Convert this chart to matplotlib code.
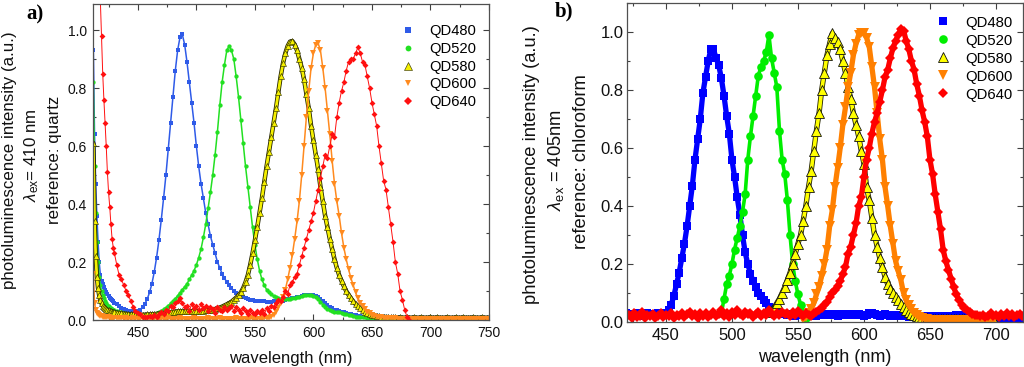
import numpy as np
import matplotlib
matplotlib.use('Agg')
import matplotlib.pyplot as plt
import matplotlib.patheffects as pe
from matplotlib.ticker import MultipleLocator

plt.rcParams['font.family'] = ['Liberation Sans', 'DejaVu Sans']
plt.rcParams['mathtext.fontset'] = 'custom'
plt.rcParams['mathtext.rm'] = 'Liberation Sans'
plt.rcParams['mathtext.it'] = 'Liberation Sans:italic'
plt.rcParams['mathtext.bf'] = 'Liberation Sans:bold'

nan = np.nan
labels = ['QD480', 'QD520', 'QD580', 'QD600', 'QD640']

# ---------------- panel a: excitation 410 nm, reference quartz ----------------
wl_a = np.concatenate([np.arange(412, 431), np.arange(432, 751, 2)])

qd480_a = [
    0.93, 0.64, 0.47, 0.36, 0.27, 0.20, 0.155, 0.135, 0.125, 0.115, 0.105, 0.097, 0.090, 0.083, 0.077, 0.072, 0.068, 0.064, 0.060,
    0.054, 0.048, 0.043, 0.039, 0.035, 0.032, 0.030, 0.029, 0.029, 0.031,
    0.036, 0.044, 0.056, 0.072, 0.095, 0.125, 0.165, 0.215, 0.275, 0.345,
    0.42, 0.50, 0.59, 0.68, 0.77, 0.86, 0.93, 0.975, 0.985, 0.95,
    0.89, 0.82, 0.75, 0.68, 0.60, 0.53, 0.47, 0.42, 0.37, 0.33,
    0.29, 0.26, 0.23, 0.20, 0.18, 0.16, 0.145, 0.13, 0.12, 0.11,
    0.100, 0.093, 0.087, 0.082, 0.078, 0.075, 0.072, 0.070, 0.068, 0.067,
    0.066, 0.065, 0.064, 0.064, 0.063, 0.063, 0.063, 0.064, 0.064, 0.065,
    0.066, 0.067, 0.069, 0.071, 0.073, 0.075, 0.077, 0.079, 0.081, 0.083,
    0.085, 0.086, 0.087, 0.087, 0.086, 0.083, 0.078, 0.072, 0.065, 0.058,
    0.051, 0.045, 0.040, 0.036, 0.033, 0.030, 0.028, 0.026, 0.024, 0.022,
    0.020, 0.018, 0.016, 0.014, 0.013, 0.012, 0.011, 0.010, 0.009, 0.009,
    0.008, 0.008, 0.008, 0.007, 0.007, 0.007, 0.007, 0.007, 0.006, 0.006,
    0.006, 0.007, 0.006, 0.006, 0.007, 0.006, 0.006, 0.006, 0.007, 0.006,
    0.006, 0.006, 0.007, 0.006, 0.006, 0.005, 0.006, 0.006, 0.007, 0.006,
    0.006, 0.005, 0.006, 0.006, 0.007, 0.006, 0.006, 0.005, 0.006, 0.006,
    0.006, 0.007, 0.006, 0.005, 0.006, 0.006, 0.006, 0.007, 0.006, 0.006,
]
qd520_a = [
    0.82, 0.53, 0.37, 0.27, 0.20, 0.15, 0.12, 0.10, 0.085, 0.075, 0.066, 0.058, 0.052, 0.047, 0.043, 0.040, 0.037, 0.035, 0.033,
    0.030, 0.028, 0.026, 0.024, 0.022, 0.020, 0.019, 0.018, 0.017, 0.016,
    0.016, 0.016, 0.016, 0.017, 0.018, 0.020, 0.022, 0.025, 0.028, 0.032,
    0.037, 0.043, 0.050, 0.057, 0.065, 0.074, 0.084, 0.094, 0.105, 0.115,
    0.125, 0.140, 0.155, 0.170, 0.190, 0.215, 0.245, 0.285, 0.330, 0.385,
    0.44, 0.50, 0.57, 0.65, 0.74, 0.82, 0.88, 0.93, 0.945, 0.93,
    0.90, 0.84, 0.77, 0.69, 0.61, 0.53, 0.46, 0.39, 0.32, 0.26,
    0.21, 0.17, 0.14, 0.12, 0.105, 0.095, 0.088, 0.082, 0.078, 0.075,
    0.073, 0.072, 0.072, 0.072, 0.073, 0.075, 0.077, 0.079, 0.081, 0.083,
    0.085, 0.086, 0.086, 0.085, 0.083, 0.078, 0.071, 0.062, 0.053, 0.045,
    0.039, 0.034, 0.031, 0.029, 0.027, 0.026, 0.024, 0.022, 0.020, 0.018,
    0.016, 0.014, 0.012, 0.011, 0.010, 0.009, 0.009, 0.008, 0.008, 0.008,
    0.008, 0.007, 0.007, 0.007, 0.007, 0.006, 0.006, 0.006, 0.006, 0.006,
    0.006, 0.005, 0.006, 0.006, 0.005, 0.006, 0.005, 0.006, 0.006, 0.005,
    0.006, 0.005, 0.005, 0.006, 0.005, 0.006, 0.005, 0.005, 0.006, 0.005,
    0.005, 0.006, 0.005, 0.005, 0.006, 0.005, 0.005, 0.006, 0.005, 0.005,
    0.006, 0.005, 0.005, 0.006, 0.005, 0.005, 0.005, 0.006, 0.005, 0.005,
]
qd580_a = [
    0.61, 0.34, 0.22, 0.15, 0.11, 0.085, 0.068, 0.057, 0.050, 0.045, 0.041, 0.038, 0.035, 0.033, 0.031, 0.030, 0.029, 0.028, 0.027,
    0.025, 0.024, 0.023, 0.022, 0.021, 0.020, 0.019, 0.019, 0.018, 0.018,
    0.018, 0.018, 0.018, 0.019, 0.019, 0.020, 0.020, 0.021, 0.022, 0.023,
    0.024, 0.025, 0.026, 0.027, 0.028, 0.029, 0.030, 0.030, 0.030, 0.030,
    0.030, 0.030, 0.030, 0.030, 0.030, 0.030, 0.031, 0.032, 0.033, 0.034,
    0.035, 0.036, 0.038, 0.040, 0.043, 0.046, 0.050, 0.054, 0.058, 0.063,
    0.070, 0.077, 0.085, 0.095, 0.11, 0.13, 0.155, 0.19, 0.23, 0.275,
    0.32, 0.37, 0.42, 0.475, 0.53, 0.58, 0.63, 0.68, 0.73, 0.785,
    0.84, 0.885, 0.92, 0.945, 0.96, 0.962, 0.95, 0.93, 0.90, 0.87,
    0.83, 0.78, 0.73, 0.67, 0.62, 0.57, 0.52, 0.46, 0.41, 0.36,
    0.32, 0.28, 0.245, 0.21, 0.18, 0.155, 0.135, 0.117, 0.10, 0.087,
    0.075, 0.064, 0.055, 0.047, 0.040, 0.034, 0.029, 0.025, 0.021, 0.018,
    0.016, 0.014, 0.013, 0.012, 0.011, 0.010, 0.010, 0.009, 0.009, 0.009,
    0.008, 0.009, 0.008, 0.008, 0.009, 0.008, 0.008, 0.009, 0.008, 0.008,
    0.009, 0.008, 0.008, 0.008, 0.009, 0.008, 0.008, 0.009, 0.008, 0.008,
    0.008, 0.009, 0.008, 0.008, 0.008, 0.009, 0.008, 0.008, 0.009, 0.008,
    0.008, 0.008, 0.009, 0.008, 0.008, 0.008, 0.009, 0.008, 0.008, 0.008,
]
qd600_a = [
    0.16, 0.06, 0.035, 0.025, 0.020, 0.017, 0.015, 0.013, 0.012, 0.011, 0.010, 0.010, 0.009, 0.009, 0.008, 0.008, 0.008, 0.007, 0.007,
    0.006, 0.006, 0.006, 0.005, 0.006, 0.005, 0.005, 0.006, 0.005, 0.005,
    0.005, 0.006, 0.005, 0.005, 0.005, 0.006, 0.005, 0.005, 0.005, 0.005,
    0.005, 0.005, 0.006, 0.005, 0.005, 0.005, 0.005, 0.006, 0.005, 0.005,
    0.005, 0.005, 0.005, 0.006, 0.005, 0.005, 0.005, 0.005, 0.005, 0.006,
    0.005, 0.005, 0.005, 0.005, 0.006, 0.005, 0.005, 0.005, 0.005, 0.005,
    0.005, 0.006, 0.005, 0.005, 0.005, 0.005, 0.005, 0.006, 0.005, 0.005,
    0.005, 0.005, 0.005, 0.006, 0.007, 0.008, 0.012, 0.018, 0.028, 0.042,
    0.06, 0.08, 0.105, 0.14, 0.18, 0.225, 0.28, 0.34, 0.41, 0.50,
    0.60, 0.70, 0.79, 0.87, 0.92, 0.95, 0.955, 0.93, 0.87, 0.80,
    0.72, 0.64, 0.55, 0.47, 0.41, 0.36, 0.30, 0.25, 0.21, 0.175,
    0.145, 0.12, 0.095, 0.075, 0.06, 0.047, 0.037, 0.029, 0.023, 0.018,
    0.014, 0.012, 0.010, 0.009, 0.008, 0.007, 0.007, 0.006, 0.006, 0.006,
    0.005, 0.005, 0.005, 0.004, 0.005, 0.005, 0.004, 0.005, 0.005, 0.004,
    0.005, 0.004, 0.005, 0.005, 0.004, 0.005, 0.004, 0.005, 0.004, 0.005,
    0.004, 0.005, 0.004, 0.005, 0.005, 0.004, 0.005, 0.004, 0.005, 0.004,
    0.005, 0.004, 0.005, 0.004, 0.005, 0.004, 0.005, 0.005, 0.004, 0.005,
]
qd640_a = [
    nan, nan, nan, nan, nan, nan, 1.10, 0.98, 0.85, 0.76, 0.68, 0.60, 0.51, 0.44, 0.39, 0.33, 0.28, 0.25, 0.23,
    0.19, 0.155, 0.14, 0.12, 0.10, 0.085, 0.065, 0.045, 0.030, 0.025,
    0.020, 0.012, 0.010, 0.012, 0.015, 0.010, 0.018, 0.012, 0.020, 0.028,
    0.022, 0.035, 0.030, 0.050, 0.045, 0.060, 0.065, 0.075, 0.060, 0.045,
    0.050, 0.030, 0.055, 0.040, 0.050, 0.035, 0.055, 0.040, 0.050, 0.030,
    0.045, 0.038, 0.025, 0.045, 0.035, 0.030, 0.045, 0.035, 0.040, 0.050,
    0.030, 0.045, 0.035, 0.025, 0.040, 0.030, 0.020, 0.035, 0.025, 0.020,
    0.030, 0.025, 0.035, 0.020, 0.040, 0.030, 0.050, 0.045, 0.060, 0.070,
    0.065, 0.080, 0.100, 0.090, 0.120, 0.130, 0.150, 0.160, 0.190, 0.220,
    0.25, 0.28, 0.31, 0.34, 0.37, 0.41, 0.45, 0.49, 0.53, 0.57,
    0.56, 0.60, 0.64, 0.63, 0.70, 0.75, 0.79, 0.82, 0.86, 0.89,
    0.90, 0.90, 0.92, 0.94, 0.92, 0.89, 0.88, 0.84, 0.80, 0.75,
    0.71, 0.67, 0.60, 0.54, 0.48, 0.45, 0.39, 0.33, 0.27, 0.20,
    0.16, 0.10, 0.07, 0.035, 0.01, 0.0, nan, nan, nan, nan,
    nan, nan, nan, nan, nan, nan, nan, nan, nan, nan,
    nan, nan, nan, nan, nan, nan, nan, nan, nan, nan,
    nan, nan, nan, nan, nan, nan, nan, nan, nan, nan,
]

# ---------------- panel b: excitation 405 nm, reference chloroform ----------------
wl_b = np.arange(420, 721, 2)

qd480_b = [
    0.030, 0.025, 0.028, 0.022, 0.030, 0.026, 0.020, 0.027, 0.031, 0.024,
    0.026, 0.029, 0.031, 0.025, 0.030, 0.028, 0.040, 0.060, 0.090, 0.130,
    0.17, 0.22, 0.27, 0.33, 0.40, 0.47, 0.56, 0.63, 0.70, 0.79,
    0.845, 0.90, 0.94, 0.94, 0.91, 0.885, 0.84, 0.78, 0.71, 0.65,
    0.56, 0.50, 0.43, 0.37, 0.30, 0.24, 0.20, 0.167, 0.14, 0.12,
    0.10, 0.088, 0.075, 0.065, 0.052, 0.043, 0.036, 0.032, 0.030, 0.028,
    0.026, 0.025, 0.028, 0.024, 0.022, 0.026, 0.025, 0.023, 0.027, 0.025,
    0.024, 0.026, 0.022, 0.025, 0.027, 0.023, 0.025, 0.028, 0.024, 0.026,
    0.022, 0.025, 0.027, 0.024, 0.026, 0.023, 0.025, 0.028, 0.026, 0.024,
    0.022, 0.025, 0.030, 0.032, 0.026, 0.024, 0.022, 0.025, 0.027, 0.024,
    0.022, 0.020, 0.024, 0.021, 0.019, 0.022, 0.020, 0.018, 0.021, 0.019,
    0.018, 0.020, 0.017, 0.019, 0.016, 0.018, 0.020, 0.017, 0.019, 0.021,
    0.018, 0.020, 0.022, 0.019, 0.021, 0.023, 0.020, 0.022, 0.025, 0.023,
    0.021, 0.019, 0.017, 0.015, 0.014, 0.016, 0.013, 0.015, 0.014, 0.012,
    0.013, 0.015, 0.012, 0.014, 0.013, 0.011, 0.014, 0.012, 0.013, 0.012,
    0.013,
]
qd520_b = [
    nan, nan, nan, nan, nan, nan, nan, nan, nan, nan,
    nan, nan, nan, nan, nan, nan, nan, nan, nan, nan,
    nan, nan, nan, nan, nan, nan, nan, nan, nan, nan,
    nan, nan, nan, nan, nan, nan, 0.03, 0.08, 0.13, 0.16,
    0.20, 0.25, 0.29, 0.33, 0.38, 0.44, 0.56, 0.64, 0.71, 0.78,
    0.85, 0.88, 0.90, 0.93, 0.99, 0.91, 0.86, 0.81, 0.66, 0.56,
    0.51, 0.42, 0.30, 0.20, 0.14, 0.095, 0.06, 0.03, 0.015, nan,
    nan, nan, nan, nan, nan, nan, nan, nan, nan, nan,
    nan, nan, nan, nan, nan, nan, nan, nan, nan, nan,
    nan, nan, nan, nan, nan, nan, nan, nan, nan, nan,
    nan, nan, nan, nan, nan, nan, nan, nan, nan, nan,
    nan, nan, nan, nan, nan, nan, nan, nan, nan, nan,
    nan, nan, nan, nan, nan, nan, nan, nan, nan, nan,
    nan, nan, nan, nan, nan, nan, nan, nan, nan, nan,
    nan, nan, nan, nan, nan, nan, nan, nan, nan, nan,
    nan,
]
qd580_b = [
    nan, nan, nan, nan, nan, nan, nan, nan, nan, nan,
    nan, nan, nan, nan, nan, nan, nan, nan, nan, nan,
    nan, nan, nan, nan, nan, nan, nan, nan, nan, nan,
    nan, nan, nan, nan, nan, nan, nan, nan, nan, nan,
    nan, nan, nan, nan, nan, nan, nan, nan, nan, nan,
    nan, nan, nan, nan, 0.035, 0.04, 0.05, 0.065, 0.08, 0.10,
    0.12, 0.145, 0.17, 0.20, 0.236, 0.27, 0.30, 0.35, 0.40, 0.465,
    0.52, 0.59, 0.66, 0.72, 0.80, 0.86, 0.92, 0.96, 0.995, 0.98,
    0.966, 0.94, 0.90, 0.86, 0.81, 0.77, 0.72, 0.68, 0.64, 0.59,
    0.546, 0.465, 0.42, 0.36, 0.30, 0.26, 0.22, 0.19, 0.155, 0.13,
    0.115, 0.10, 0.085, 0.075, 0.063, 0.052, 0.043, 0.035, 0.029, 0.025,
    0.021, 0.018, 0.016, 0.014, 0.013, 0.012, 0.011, 0.011, 0.010, 0.010,
    0.010, 0.010, 0.009, 0.010, 0.009, 0.009, 0.010, 0.009, 0.009, 0.010,
    0.009, 0.010, 0.009, 0.009, 0.010, 0.009, 0.009, 0.010, 0.009, 0.009,
    nan, nan, nan, nan, nan, nan, nan, nan, nan, nan,
    nan,
]
qd600_b = [
    nan, nan, nan, nan, nan, nan, nan, nan, nan, nan,
    nan, nan, nan, nan, nan, nan, nan, nan, nan, nan,
    nan, nan, nan, nan, nan, nan, nan, nan, nan, nan,
    nan, nan, nan, nan, nan, nan, nan, nan, nan, nan,
    nan, nan, nan, nan, nan, nan, nan, nan, nan, nan,
    nan, nan, nan, nan, nan, nan, nan, nan, nan, nan,
    nan, nan, nan, nan, nan, nan, nan, 0.010, 0.017, 0.030,
    0.045, 0.065, 0.095, 0.12, 0.16, 0.20, 0.25, 0.33, 0.385, 0.465,
    0.53, 0.60, 0.68, 0.74, 0.81, 0.86, 0.92, 0.96, 0.99, 0.995,
    0.995, 0.98, 0.95, 0.88, 0.81, 0.72, 0.63, 0.56, 0.465, 0.40,
    0.33, 0.27, 0.21, 0.175, 0.144, 0.10, 0.075, 0.057, 0.045, 0.032,
    0.025, 0.018, 0.014, 0.011, 0.009, 0.008, 0.007, 0.007, 0.006, 0.006,
    0.006, 0.005, 0.006, 0.005, 0.005, 0.006, 0.005, 0.005, 0.006, 0.005,
    0.005, 0.006, 0.005, 0.005, 0.006, 0.005, 0.005, 0.006, 0.005, 0.005,
    nan, nan, nan, nan, nan, nan, nan, nan, nan, nan,
    nan,
]
qd640_b = [
    0.020, 0.025, 0.015, 0.030, 0.018, 0.022, 0.035, 0.015, 0.025, 0.020,
    0.028, 0.015, 0.022, 0.030, 0.018, 0.025, 0.020, 0.032, 0.015, 0.024,
    0.020, 0.030, 0.018, 0.026, 0.035, 0.020, 0.028, 0.015, 0.030, 0.022,
    0.032, 0.018, 0.025, 0.036, 0.020, 0.028, 0.040, 0.022, 0.030, 0.018,
    0.034, 0.025, 0.040, 0.028, 0.020, 0.035, 0.026, 0.030, 0.018, 0.028,
    0.036, 0.022, 0.030, 0.025, 0.040, 0.028, 0.020, 0.032, 0.024, 0.035,
    0.026, 0.030, 0.020, 0.034, 0.025, 0.038, 0.028, 0.022, 0.030, 0.024,
    0.022, 0.030, 0.035, 0.040, 0.050, 0.060, 0.070, 0.085, 0.10, 0.11,
    0.125, 0.14, 0.165, 0.19, 0.236, 0.26, 0.30, 0.34, 0.40, 0.43,
    0.50, 0.56, 0.60, 0.65, 0.69, 0.72, 0.76, 0.80, 0.845, 0.87,
    0.91, 0.945, 0.97, 0.99, 1.01, 1.005, 0.97, 0.94, 0.90, 0.87,
    0.82, 0.78, 0.73, 0.69, 0.64, 0.56, 0.51, 0.44, 0.38, 0.32,
    0.25, 0.21, 0.18, 0.15, 0.12, 0.095, 0.075, 0.06, 0.05, 0.04,
    0.035, 0.029, 0.025, 0.023, 0.020, 0.025, 0.018, 0.022, 0.030, 0.020,
    0.025, 0.018, 0.028, 0.022, 0.030, 0.020, 0.026, 0.018, 0.024, 0.028,
    0.022,
]

for s in (qd480_a, qd520_a, qd580_a, qd600_a, qd640_a):
    assert len(s) == len(wl_a), len(s)
for s in (qd480_b, qd520_b, qd580_b, qd600_b, qd640_b):
    assert len(s) == len(wl_b), len(s)

# ---------------- styles ----------------
style_a = [
    dict(marker='s', ms=2.9, color='#2f5be8', mew=0),
    dict(marker='o', ms=3.1, color='#22e022', mew=0),
    dict(marker='^', ms=4.6, color='#f5f000', mec='#222200', mew=0.4),
    dict(marker='v', ms=3.7, color='#ff8a1e', mew=0),
    dict(marker='D', ms=3.0, color='#ff1010', mew=0),
]
band_a = [1.1, 1.1, 2.0, 1.1, 0.7]
style_b = [
    dict(marker='s', ms=6.0, color='#0000ff', mew=0),
    dict(marker='o', ms=6.2, color='#00ee00', mew=0),
    dict(marker='^', ms=6.8, color='#ffff00', mec='#111111', mew=0.6),
    dict(marker='v', ms=6.8, color='#ff8000', mew=0),
    dict(marker='D', ms=5.4, color='#ff0000', mew=0),
]
band_b = [3.8, 2.6, 2.6, 3.8, 3.8]

W, H = 1024, 367
fig = plt.figure(figsize=(W / 100, H / 100), dpi=100)

def px_axes(x0, y0, x1, y1):
    return fig.add_axes([x0 / W, 1 - y1 / H, (x1 - x0) / W, (y1 - y0) / H])

def style_axes(ax, fs, xpad, ypad):
    for sp in ax.spines.values():
        sp.set_color('#505050')
        sp.set_linewidth(0.9)
    ax.xaxis.set_major_locator(MultipleLocator(50))
    ax.xaxis.set_minor_locator(MultipleLocator(25))
    ax.yaxis.set_major_locator(MultipleLocator(0.2))
    ax.yaxis.set_minor_locator(MultipleLocator(0.1))
    ax.yaxis.set_major_formatter(matplotlib.ticker.FormatStrFormatter('%.1f'))
    ax.tick_params(which='both', direction='in', top=True, right=True, color='#404040', width=0.8)
    ax.tick_params(which='major', length=4.5)
    ax.tick_params(which='minor', length=2.5)
    ax.tick_params(axis='x', labelsize=fs, pad=xpad, labelcolor='#111111')
    ax.tick_params(axis='y', labelsize=fs, pad=ypad, labelcolor='#111111')

def draw(ax, wl, series, styles, bands):
    handles = []
    for y, st, lw, lab in zip(series, styles, bands, labels):
        effects = None
        if 'mec' in st:
            effects = [pe.Stroke(linewidth=lw + 1.2, foreground='#222200'), pe.Normal()]
        ax.plot(wl, y, ls='-', lw=lw, color=st['color'], marker='none',
                solid_capstyle='round', solid_joinstyle='round', path_effects=effects)
        h, = ax.plot(wl, y, ls='none', label=lab, **st)
        handles.append(h)
    return handles

# panel a
ax_a = px_axes(93, 4, 489, 320)
h_a = draw(ax_a, wl_a, [qd480_a, qd520_a, qd580_a, qd600_a, qd640_a], style_a, band_a)
ax_a.set_xlim(411.7, 750)
ax_a.set_ylim(0, 1.09)
style_axes(ax_a, 10, 4.5, 4.5)
ax_a.legend(handles=h_a, loc='upper left', bbox_to_anchor=(401 / W, 1 - 24 / H), bbox_transform=fig.transFigure,
            frameon=False, borderpad=0, borderaxespad=0, handlelength=1.0, handletextpad=0.9,
            labelspacing=0.26, fontsize=10.6, numpoints=1, markerscale=1.35)

# panel b
ax_b = px_axes(627, 3, 1023, 322)
h_b = draw(ax_b, wl_b, [qd480_b, qd520_b, qd580_b, qd600_b, qd640_b], style_b, band_b)
ax_b.set_xlim(420.5, 720.5)
ax_b.set_ylim(0, 1.10)
style_axes(ax_b, 12, 4.5, 2.5)
ax_b.legend(handles=h_b, loc='upper left', bbox_to_anchor=(936 / W, 1 - 15.5 / H), bbox_transform=fig.transFigure,
            frameon=False, borderpad=0, borderaxespad=0, handlelength=1.0, handletextpad=0.95,
            labelspacing=0.27, fontsize=10.7, numpoints=1, markerscale=1.0)

# axis labels
def ftext(x, y, s, **kw):
    fig.text(x / W, 1 - y / H, s, **kw)

ftext(291, 358, 'wavelength (nm)', ha='center', va='center', fontsize=12, color='#111111')
ftext(825, 358, 'wavelength (nm)', ha='center', va='center', fontsize=13, color='#111111')

ftext(10, 160, 'photoluminescence intensity (a.u.)', ha='center', va='center', rotation=90, fontsize=12.2, color='#111111')
ftext(32, 155, r'$\lambda_{\mathrm{ex}}$= 410 nm', ha='center', va='center', rotation=90, fontsize=12.2, color='#111111')
ftext(55, 160, 'reference: quartz', ha='center', va='center', rotation=90, fontsize=12.2, color='#111111')

ftext(531, 165, 'photoluminescence intensity (a.u.)', ha='center', va='center', rotation=90, fontsize=13.2, color='#111111')
ftext(556, 160, r'$\lambda_{\mathrm{ex}}$ = 405nm', ha='center', va='center', rotation=90, fontsize=13.2, color='#111111')
ftext(581, 162, 'reference: chloroform', ha='center', va='center', rotation=90, fontsize=13.2, color='#111111')

# panel letters
ftext(35, 14, 'a)', ha='center', va='center', fontsize=15, fontweight='bold', family='Liberation Serif')
ftext(564, 11, 'b)', ha='center', va='center', fontsize=15, fontweight='bold', family='Liberation Serif')

fig.savefig('out.png', dpi=100)
